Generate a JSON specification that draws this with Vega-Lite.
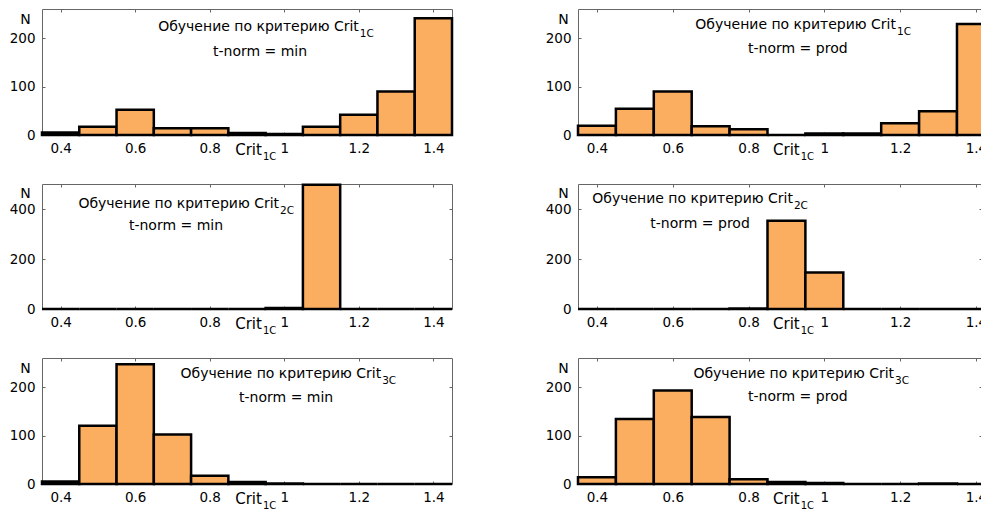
{
"$schema": "https://vega.github.io/schema/vega-lite/v6.json",
"padding": {"left": 8, "top": 8, "right": -16, "bottom": 0},
"autosize": {"type": "pad"},
"background": "white",
"config": {
  "view": {"stroke": "#666", "strokeWidth": 1},
  "axis": {"domain": false, "grid": false, "tickColor": "#666", "tickSize": -3, "tickWidth": 1, "labelFont": "DejaVu Sans", "labelFontSize": 13.5, "labelColor": "#000", "titleFont": "DejaVu Sans", "titleFontSize": 14, "titleFontWeight": "normal", "titleColor": "#000"},
  "axisBottom": {"labelPadding": 9},
  "axisLeft": {"labelPadding": 10},
  "text": {"font": "DejaVu Sans", "fontSize": 14, "fill": "#000"}
},
"datasets": {"h": [
{"p":1,"a":0.35,"b":0.45,"n":5},{"p":1,"a":0.45,"b":0.55,"n":17},{"p":1,"a":0.55,"b":0.65,"n":52},{"p":1,"a":0.65,"b":0.75,"n":14},{"p":1,"a":0.75,"b":0.85,"n":14},{"p":1,"a":0.85,"b":0.95,"n":4},{"p":1,"a":0.95,"b":1.05,"n":2},{"p":1,"a":1.05,"b":1.15,"n":17},{"p":1,"a":1.15,"b":1.25,"n":42},{"p":1,"a":1.25,"b":1.35,"n":90},{"p":1,"a":1.35,"b":1.45,"n":241},
{"p":2,"a":0.35,"b":0.45,"n":19},{"p":2,"a":0.45,"b":0.55,"n":54},{"p":2,"a":0.55,"b":0.65,"n":90},{"p":2,"a":0.65,"b":0.75,"n":18},{"p":2,"a":0.75,"b":0.85,"n":12},{"p":2,"a":0.85,"b":0.95,"n":0},{"p":2,"a":0.95,"b":1.05,"n":3},{"p":2,"a":1.05,"b":1.15,"n":3},{"p":2,"a":1.15,"b":1.25,"n":24},{"p":2,"a":1.25,"b":1.35,"n":49},{"p":2,"a":1.35,"b":1.45,"n":229},
{"p":3,"a":0.35,"b":0.45,"n":0},{"p":3,"a":0.45,"b":0.55,"n":0},{"p":3,"a":0.55,"b":0.65,"n":0},{"p":3,"a":0.65,"b":0.75,"n":0},{"p":3,"a":0.75,"b":0.85,"n":0},{"p":3,"a":0.85,"b":0.95,"n":0},{"p":3,"a":0.95,"b":1.05,"n":4},{"p":3,"a":1.05,"b":1.15,"n":497},{"p":3,"a":1.15,"b":1.25,"n":0},{"p":3,"a":1.25,"b":1.35,"n":0},{"p":3,"a":1.35,"b":1.45,"n":0},
{"p":4,"a":0.35,"b":0.45,"n":0},{"p":4,"a":0.45,"b":0.55,"n":0},{"p":4,"a":0.55,"b":0.65,"n":0},{"p":4,"a":0.65,"b":0.75,"n":0},{"p":4,"a":0.75,"b":0.85,"n":2},{"p":4,"a":0.85,"b":0.95,"n":353},{"p":4,"a":0.95,"b":1.05,"n":146},{"p":4,"a":1.05,"b":1.15,"n":0},{"p":4,"a":1.15,"b":1.25,"n":0},{"p":4,"a":1.25,"b":1.35,"n":0},{"p":4,"a":1.35,"b":1.45,"n":0},
{"p":5,"a":0.35,"b":0.45,"n":5},{"p":5,"a":0.45,"b":0.55,"n":120},{"p":5,"a":0.55,"b":0.65,"n":247},{"p":5,"a":0.65,"b":0.75,"n":102},{"p":5,"a":0.75,"b":0.85,"n":17},{"p":5,"a":0.85,"b":0.95,"n":4},{"p":5,"a":0.95,"b":1.05,"n":1},{"p":5,"a":1.05,"b":1.15,"n":0},{"p":5,"a":1.15,"b":1.25,"n":0},{"p":5,"a":1.25,"b":1.35,"n":0},{"p":5,"a":1.35,"b":1.45,"n":0},
{"p":6,"a":0.35,"b":0.45,"n":14},{"p":6,"a":0.45,"b":0.55,"n":134},{"p":6,"a":0.55,"b":0.65,"n":193},{"p":6,"a":0.65,"b":0.75,"n":138},{"p":6,"a":0.75,"b":0.85,"n":10},{"p":6,"a":0.85,"b":0.95,"n":4},{"p":6,"a":0.95,"b":1.05,"n":2},{"p":6,"a":1.05,"b":1.15,"n":0},{"p":6,"a":1.15,"b":1.25,"n":0},{"p":6,"a":1.25,"b":1.35,"n":1},{"p":6,"a":1.35,"b":1.45,"n":0}
]},
"columns": 2,
"spacing": {"row": 49, "column": 126},
"bounds": "flush",
"concat": [
{"width": 410, "height": 126, "resolve": {"axis": {"x": "independent", "y": "independent"}},
 "layer": [
  {"data": {"name": "h"}, "transform": [{"filter": "datum.p == 1"}],
   "mark": {"type": "bar", "fill": "#FCAE60", "stroke": "#000", "strokeWidth": 2.5},
   "encoding": {
    "x": {"field": "a", "type": "quantitative", "scale": {"domain": [0.35, 1.45], "nice": false, "zero": false}, "axis": {"orient": "bottom", "values": [0.4, 0.6, 0.8, 1, 1.2, 1.4], "format": "~g", "title": null}},
    "x2": {"field": "b"},
    "y": {"field": "n", "type": "quantitative", "scale": {"domain": [0, 260], "nice": false}, "axis": {"orient": "left", "values": [0, 100, 200], "title": "N", "titleAngle": 0, "titleX": -17, "titleY": 10, "titleAlign": "center", "titleBaseline": "middle"}},
    "y2": {"datum": 0}}},
  {"data": {"values": [{}]}, "mark": {"type": "text", "text": "t-norm = min", "align": "center", "baseline": "middle"},
   "encoding": {"x": {"datum": 0.935, "axis": {"orient": "top", "labels": false, "title": null, "values": [0.4, 0.6, 0.8, 1, 1.2, 1.4]}}, "y": {"datum": 171, "axis": {"orient": "right", "labels": false, "title": null, "values": [0, 100, 200]}}}},
  {"data": {"values": [{}]}, "mark": {"type": "text", "text": "Обучение по критерию Crit", "align": "right", "baseline": "middle"},
   "encoding": {"x": {"datum": 1.2, "axis": null}, "y": {"datum": 223, "axis": null}}},
  {"data": {"values": [{}]}, "mark": {"type": "text", "text": "1C", "align": "left", "baseline": "middle", "fontSize": 10.5, "dx": 1, "dy": 7},
   "encoding": {"x": {"datum": 1.2, "axis": null}, "y": {"datum": 223, "axis": null}}},
  {"data": {"values": [{}]}, "mark": {"type": "text", "text": "Crit", "align": "right", "baseline": "middle", "fontSize": 15, "dy": 15},
   "encoding": {"x": {"datum": 0.94, "axis": null}, "y": {"datum": 0, "axis": null}}},
  {"data": {"values": [{}]}, "mark": {"type": "text", "text": "1C", "align": "left", "baseline": "middle", "fontSize": 10, "dx": 1, "dy": 22},
   "encoding": {"x": {"datum": 0.94, "axis": null}, "y": {"datum": 0, "axis": null}}}
 ]},
{"width": 404, "height": 126, "resolve": {"axis": {"x": "independent", "y": "independent"}},
 "layer": [
  {"data": {"name": "h"}, "transform": [{"filter": "datum.p == 2"}],
   "mark": {"type": "bar", "fill": "#FCAE60", "stroke": "#000", "strokeWidth": 2.5},
   "encoding": {
    "x": {"field": "a", "type": "quantitative", "scale": {"domain": [0.35, 1.416], "nice": false, "zero": false}, "axis": {"orient": "bottom", "values": [0.4, 0.6, 0.8, 1, 1.2, 1.4], "format": "~g", "title": null}},
    "x2": {"field": "b"},
    "y": {"field": "n", "type": "quantitative", "scale": {"domain": [0, 260], "nice": false}, "axis": {"orient": "left", "values": [0, 100, 200], "title": "N", "titleAngle": 0, "titleX": -15, "titleY": 10, "titleAlign": "center", "titleBaseline": "middle"}},
    "y2": {"datum": 0}}},
  {"data": {"values": [{}]}, "mark": {"type": "text", "text": "t-norm = prod", "align": "center", "baseline": "middle"},
   "encoding": {"x": {"datum": 0.93, "axis": {"orient": "top", "labels": false, "title": null, "values": [0.4, 0.6, 0.8, 1, 1.2, 1.4]}}, "y": {"datum": 177, "axis": {"orient": "right", "labels": false, "title": null, "values": [0, 100, 200]}}}},
  {"data": {"values": [{}]}, "mark": {"type": "text", "text": "Обучение по критерию Crit", "align": "right", "baseline": "middle"},
   "encoding": {"x": {"datum": 1.189, "axis": null}, "y": {"datum": 227, "axis": null}}},
  {"data": {"values": [{}]}, "mark": {"type": "text", "text": "1C", "align": "left", "baseline": "middle", "fontSize": 10.5, "dx": 1, "dy": 7},
   "encoding": {"x": {"datum": 1.189, "axis": null}, "y": {"datum": 227, "axis": null}}},
  {"data": {"values": [{}]}, "mark": {"type": "text", "text": "Crit", "align": "right", "baseline": "middle", "fontSize": 15, "dy": 15},
   "encoding": {"x": {"datum": 0.935, "axis": null}, "y": {"datum": 0, "axis": null}}},
  {"data": {"values": [{}]}, "mark": {"type": "text", "text": "1C", "align": "left", "baseline": "middle", "fontSize": 10, "dx": 1, "dy": 22},
   "encoding": {"x": {"datum": 0.935, "axis": null}, "y": {"datum": 0, "axis": null}}}
 ]},
{"width": 410, "height": 125, "resolve": {"axis": {"x": "independent", "y": "independent"}},
 "layer": [
  {"data": {"name": "h"}, "transform": [{"filter": "datum.p == 3"}],
   "mark": {"type": "bar", "fill": "#FCAE60", "stroke": "#000", "strokeWidth": 2.5},
   "encoding": {
    "x": {"field": "a", "type": "quantitative", "scale": {"domain": [0.35, 1.45], "nice": false, "zero": false}, "axis": {"orient": "bottom", "values": [0.4, 0.6, 0.8, 1, 1.2, 1.4], "format": "~g", "title": null}},
    "x2": {"field": "b"},
    "y": {"field": "n", "type": "quantitative", "scale": {"domain": [0, 500], "nice": false}, "axis": {"orient": "left", "values": [0, 200, 400], "title": "N", "titleAngle": 0, "titleX": -17, "titleY": 9, "titleAlign": "center", "titleBaseline": "middle"}},
    "y2": {"datum": 0}}},
  {"data": {"values": [{}]}, "mark": {"type": "text", "text": "t-norm = min", "align": "center", "baseline": "middle"},
   "encoding": {"x": {"datum": 0.7095, "axis": {"orient": "top", "labels": false, "title": null, "values": [0.4, 0.6, 0.8, 1, 1.2, 1.4]}}, "y": {"datum": 332, "axis": {"orient": "right", "labels": false, "title": null, "values": [0, 200, 400]}}}},
  {"data": {"values": [{}]}, "mark": {"type": "text", "text": "Обучение по критерию Crit", "align": "right", "baseline": "middle"},
   "encoding": {"x": {"datum": 0.986, "axis": null}, "y": {"datum": 420, "axis": null}}},
  {"data": {"values": [{}]}, "mark": {"type": "text", "text": "2C", "align": "left", "baseline": "middle", "fontSize": 10.5, "dx": 1, "dy": 7},
   "encoding": {"x": {"datum": 0.986, "axis": null}, "y": {"datum": 420, "axis": null}}},
  {"data": {"values": [{}]}, "mark": {"type": "text", "text": "Crit", "align": "right", "baseline": "middle", "fontSize": 15, "dy": 15},
   "encoding": {"x": {"datum": 0.94, "axis": null}, "y": {"datum": 0, "axis": null}}},
  {"data": {"values": [{}]}, "mark": {"type": "text", "text": "1C", "align": "left", "baseline": "middle", "fontSize": 10, "dx": 1, "dy": 22},
   "encoding": {"x": {"datum": 0.94, "axis": null}, "y": {"datum": 0, "axis": null}}}
 ]},
{"width": 404, "height": 125, "resolve": {"axis": {"x": "independent", "y": "independent"}},
 "layer": [
  {"data": {"name": "h"}, "transform": [{"filter": "datum.p == 4"}],
   "mark": {"type": "bar", "fill": "#FCAE60", "stroke": "#000", "strokeWidth": 2.5},
   "encoding": {
    "x": {"field": "a", "type": "quantitative", "scale": {"domain": [0.35, 1.416], "nice": false, "zero": false}, "axis": {"orient": "bottom", "values": [0.4, 0.6, 0.8, 1, 1.2, 1.4], "format": "~g", "title": null}},
    "x2": {"field": "b"},
    "y": {"field": "n", "type": "quantitative", "scale": {"domain": [0, 500], "nice": false}, "axis": {"orient": "left", "values": [0, 200, 400], "title": "N", "titleAngle": 0, "titleX": -15, "titleY": 9, "titleAlign": "center", "titleBaseline": "middle"}},
    "y2": {"datum": 0}}},
  {"data": {"values": [{}]}, "mark": {"type": "text", "text": "t-norm = prod", "align": "center", "baseline": "middle"},
   "encoding": {"x": {"datum": 0.672, "axis": {"orient": "top", "labels": false, "title": null, "values": [0.4, 0.6, 0.8, 1, 1.2, 1.4]}}, "y": {"datum": 340, "axis": {"orient": "right", "labels": false, "title": null, "values": [0, 200, 400]}}}},
  {"data": {"values": [{}]}, "mark": {"type": "text", "text": "Обучение по критерию Crit", "align": "right", "baseline": "middle"},
   "encoding": {"x": {"datum": 0.917, "axis": null}, "y": {"datum": 440, "axis": null}}},
  {"data": {"values": [{}]}, "mark": {"type": "text", "text": "2C", "align": "left", "baseline": "middle", "fontSize": 10.5, "dx": 1, "dy": 7},
   "encoding": {"x": {"datum": 0.917, "axis": null}, "y": {"datum": 440, "axis": null}}},
  {"data": {"values": [{}]}, "mark": {"type": "text", "text": "Crit", "align": "right", "baseline": "middle", "fontSize": 15, "dy": 15},
   "encoding": {"x": {"datum": 0.935, "axis": null}, "y": {"datum": 0, "axis": null}}},
  {"data": {"values": [{}]}, "mark": {"type": "text", "text": "1C", "align": "left", "baseline": "middle", "fontSize": 10, "dx": 1, "dy": 22},
   "encoding": {"x": {"datum": 0.935, "axis": null}, "y": {"datum": 0, "axis": null}}}
 ]},
{"width": 410, "height": 126, "resolve": {"axis": {"x": "independent", "y": "independent"}},
 "layer": [
  {"data": {"name": "h"}, "transform": [{"filter": "datum.p == 5"}],
   "mark": {"type": "bar", "fill": "#FCAE60", "stroke": "#000", "strokeWidth": 2.5},
   "encoding": {
    "x": {"field": "a", "type": "quantitative", "scale": {"domain": [0.35, 1.45], "nice": false, "zero": false}, "axis": {"orient": "bottom", "values": [0.4, 0.6, 0.8, 1, 1.2, 1.4], "format": "~g", "title": null}},
    "x2": {"field": "b"},
    "y": {"field": "n", "type": "quantitative", "scale": {"domain": [0, 260], "nice": false}, "axis": {"orient": "left", "values": [0, 100, 200], "title": "N", "titleAngle": 0, "titleX": -17, "titleY": 10, "titleAlign": "center", "titleBaseline": "middle"}},
    "y2": {"datum": 0}}},
  {"data": {"values": [{}]}, "mark": {"type": "text", "text": "t-norm = min", "align": "center", "baseline": "middle"},
   "encoding": {"x": {"datum": 1.005, "axis": {"orient": "top", "labels": false, "title": null, "values": [0.4, 0.6, 0.8, 1, 1.2, 1.4]}}, "y": {"datum": 177, "axis": {"orient": "right", "labels": false, "title": null, "values": [0, 100, 200]}}}},
  {"data": {"values": [{}]}, "mark": {"type": "text", "text": "Обучение по критерию Crit", "align": "right", "baseline": "middle"},
   "encoding": {"x": {"datum": 1.26, "axis": null}, "y": {"datum": 227, "axis": null}}},
  {"data": {"values": [{}]}, "mark": {"type": "text", "text": "3C", "align": "left", "baseline": "middle", "fontSize": 10.5, "dx": 1, "dy": 7},
   "encoding": {"x": {"datum": 1.26, "axis": null}, "y": {"datum": 227, "axis": null}}},
  {"data": {"values": [{}]}, "mark": {"type": "text", "text": "Crit", "align": "right", "baseline": "middle", "fontSize": 15, "dy": 15},
   "encoding": {"x": {"datum": 0.94, "axis": null}, "y": {"datum": 0, "axis": null}}},
  {"data": {"values": [{}]}, "mark": {"type": "text", "text": "1C", "align": "left", "baseline": "middle", "fontSize": 10, "dx": 1, "dy": 22},
   "encoding": {"x": {"datum": 0.94, "axis": null}, "y": {"datum": 0, "axis": null}}}
 ]},
{"width": 404, "height": 126, "resolve": {"axis": {"x": "independent", "y": "independent"}},
 "layer": [
  {"data": {"name": "h"}, "transform": [{"filter": "datum.p == 6"}],
   "mark": {"type": "bar", "fill": "#FCAE60", "stroke": "#000", "strokeWidth": 2.5},
   "encoding": {
    "x": {"field": "a", "type": "quantitative", "scale": {"domain": [0.35, 1.416], "nice": false, "zero": false}, "axis": {"orient": "bottom", "values": [0.4, 0.6, 0.8, 1, 1.2, 1.4], "format": "~g", "title": null}},
    "x2": {"field": "b"},
    "y": {"field": "n", "type": "quantitative", "scale": {"domain": [0, 260], "nice": false}, "axis": {"orient": "left", "values": [0, 100, 200], "title": "N", "titleAngle": 0, "titleX": -15, "titleY": 10, "titleAlign": "center", "titleBaseline": "middle"}},
    "y2": {"datum": 0}}},
  {"data": {"values": [{}]}, "mark": {"type": "text", "text": "t-norm = prod", "align": "center", "baseline": "middle"},
   "encoding": {"x": {"datum": 0.93, "axis": {"orient": "top", "labels": false, "title": null, "values": [0.4, 0.6, 0.8, 1, 1.2, 1.4]}}, "y": {"datum": 179, "axis": {"orient": "right", "labels": false, "title": null, "values": [0, 100, 200]}}}},
  {"data": {"values": [{}]}, "mark": {"type": "text", "text": "Обучение по критерию Crit", "align": "right", "baseline": "middle"},
   "encoding": {"x": {"datum": 1.184, "axis": null}, "y": {"datum": 227, "axis": null}}},
  {"data": {"values": [{}]}, "mark": {"type": "text", "text": "3C", "align": "left", "baseline": "middle", "fontSize": 10.5, "dx": 1, "dy": 7},
   "encoding": {"x": {"datum": 1.184, "axis": null}, "y": {"datum": 227, "axis": null}}},
  {"data": {"values": [{}]}, "mark": {"type": "text", "text": "Crit", "align": "right", "baseline": "middle", "fontSize": 15, "dy": 15},
   "encoding": {"x": {"datum": 0.935, "axis": null}, "y": {"datum": 0, "axis": null}}},
  {"data": {"values": [{}]}, "mark": {"type": "text", "text": "1C", "align": "left", "baseline": "middle", "fontSize": 10, "dx": 1, "dy": 22},
   "encoding": {"x": {"datum": 0.935, "axis": null}, "y": {"datum": 0, "axis": null}}}
 ]}
]
}
